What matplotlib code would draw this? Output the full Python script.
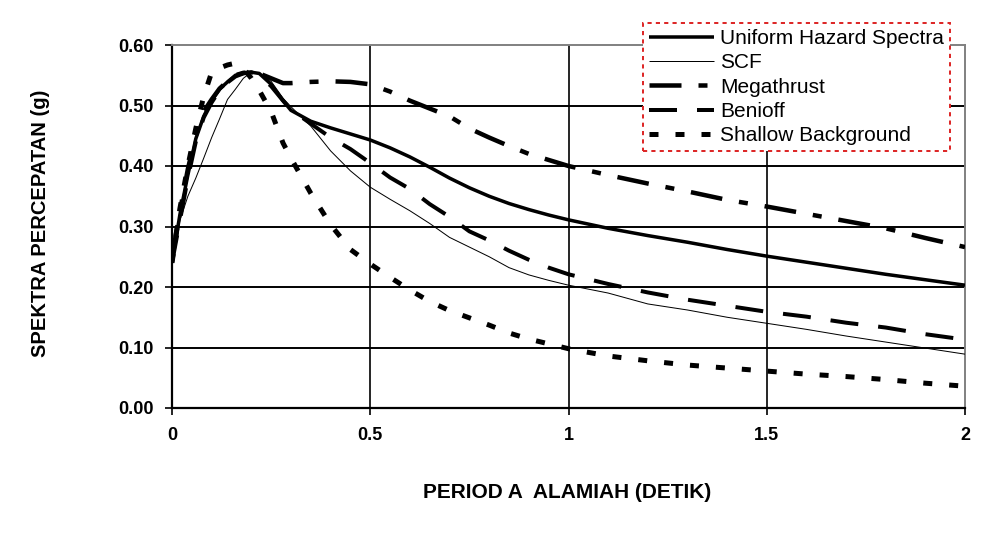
import numpy as np
import matplotlib
matplotlib.use("Agg")
import matplotlib.pyplot as plt

# Periode (detik) and spectral acceleration (g)
period = [0.00, 0.02, 0.04, 0.06, 0.08, 0.10, 0.12, 0.14, 0.16, 0.18,
          0.20, 0.22, 0.25, 0.28, 0.30, 0.35, 0.40, 0.45, 0.50, 0.55,
          0.60, 0.65, 0.70, 0.75, 0.80, 0.85, 0.90, 0.95, 1.00, 1.10,
          1.20, 1.30, 1.40, 1.50, 1.60, 1.70, 1.80, 1.90, 2.00]

uhs = [0.240, 0.320, 0.385, 0.445, 0.482, 0.508, 0.527, 0.539, 0.550, 0.554,
       0.555, 0.553, 0.535, 0.508, 0.492, 0.474, 0.463, 0.453, 0.443, 0.430,
       0.415, 0.398, 0.380, 0.364, 0.350, 0.338, 0.328, 0.319, 0.311, 0.297,
       0.285, 0.274, 0.262, 0.251, 0.241, 0.231, 0.221, 0.212, 0.203]

scf = [0.240, 0.310, 0.350, 0.380, 0.413, 0.447, 0.478, 0.510, 0.527, 0.545,
       0.555, 0.554, 0.540, 0.512, 0.498, 0.466, 0.425, 0.392, 0.365, 0.345,
       0.326, 0.305, 0.282, 0.266, 0.250, 0.232, 0.220, 0.211, 0.203, 0.190,
       0.172, 0.162, 0.150, 0.140, 0.130, 0.119, 0.109, 0.099, 0.089]

megathrust = [0.250, 0.325, 0.395, 0.450, 0.490, 0.510, 0.528, 0.540, 0.550, 0.554,
              0.555, 0.553, 0.545, 0.537, 0.537, 0.539, 0.540, 0.539, 0.535, 0.523,
              0.508, 0.495, 0.482, 0.462, 0.447, 0.433, 0.420, 0.410, 0.400, 0.385,
              0.371, 0.358, 0.344, 0.333, 0.321, 0.309, 0.297, 0.281, 0.266]

benioff = [0.240, 0.310, 0.380, 0.440, 0.480, 0.505, 0.525, 0.538, 0.548, 0.553,
           0.555, 0.550, 0.532, 0.508, 0.493, 0.470, 0.447, 0.428, 0.405, 0.381,
           0.362, 0.337, 0.316, 0.292, 0.277, 0.260, 0.245, 0.232, 0.221, 0.205,
           0.191, 0.179, 0.169, 0.159, 0.151, 0.141, 0.133, 0.122, 0.113]

shallow = [0.240, 0.330, 0.400, 0.462, 0.515, 0.555, 0.562, 0.567, 0.570, 0.562,
           0.545, 0.525, 0.490, 0.438, 0.413, 0.355, 0.303, 0.262, 0.238, 0.216,
           0.195, 0.176, 0.161, 0.149, 0.137, 0.124, 0.114, 0.106, 0.098, 0.086,
           0.078, 0.071, 0.066, 0.061, 0.056, 0.052, 0.047, 0.041, 0.036]

labels = ["Uniform Hazard Spectra", "SCF", "Megathrust", "Benioff", "Shallow Background"]
x_ticks = [0, 0.5, 1, 1.5, 2]
x_tick_labels = ["0", "0.5", "1", "1.5", "2"]
y_ticks = [0.0, 0.1, 0.2, 0.3, 0.4, 0.5, 0.6]

plt.rcParams["font.family"] = ["Liberation Sans", "DejaVu Sans"]
plt.rcParams["lines.scale_dashes"] = False

fig = plt.figure(figsize=(10.01, 5.37), dpi=100)
ax = fig.add_axes([172 / 1001, 1 - 408 / 537, (965 - 172) / 1001, (408 - 45) / 537])

# px -> pt at 100 dpi
pt = 0.72
styles = [
    dict(color="black", lw=3.5 * pt, linestyle="-"),
    dict(color="black", lw=1.0 * pt, linestyle="-"),
    dict(color="black", lw=4.5 * pt, linestyle=(0, (32 * pt, 17 * pt, 9 * pt, 17 * pt))),
    dict(color="black", lw=4.0 * pt, linestyle=(0, (28 * pt, 20 * pt))),
    dict(color="black", lw=5.0 * pt, linestyle=(0, (9 * pt, 17 * pt))),
]
series = [uhs, scf, megathrust, benioff, shallow]

handles = []
for vals, st, lab in zip(series, styles, labels):
    (h,) = ax.plot(period, vals, label=lab, solid_capstyle="butt",
                   dash_capstyle="butt", zorder=3, **st)
    handles.append(h)

ax.set_xlim(0, 2)
ax.set_ylim(0, 0.6)
ax.set_xticks(x_ticks)
ax.set_xticklabels(x_tick_labels)
ax.set_yticks(y_ticks)
ax.set_yticklabels([f"{v:.2f}" for v in y_ticks])

for lab in ax.get_xticklabels() + ax.get_yticklabels():
    lab.set_fontweight("bold")
    lab.set_fontsize(13)

ax.tick_params(axis="x", direction="out", length=5, width=1.2, pad=9)
ax.tick_params(axis="y", direction="out", length=5, width=1.2, pad=8)

# grid: horizontal at every 0.1, vertical at 0.5 / 1 / 1.5
for y in y_ticks[1:-1]:
    ax.axhline(y, color="black", lw=1.4, zorder=1)
for x in x_ticks[1:-1]:
    ax.axvline(x, color="black", lw=1.2, zorder=1)

ax.spines["left"].set_linewidth(1.6)
ax.spines["bottom"].set_linewidth(1.6)
ax.spines["top"].set_color("#808080")
ax.spines["right"].set_color("#808080")
ax.spines["top"].set_linewidth(1.4)
ax.spines["right"].set_linewidth(1.4)

fig.text(41 / 1001, 1 - 223 / 537, "SPEKTRA PERCEPATAN (g)", rotation=90,
         ha="center", va="center", fontsize=14.5, fontweight="bold")
fig.text(567 / 1001, 1 - 493 / 537, "PERIOD A  ALAMIAH (DETIK)",
         ha="center", va="center", fontsize=15, fontweight="bold")

leg = ax.legend(handles=handles, loc="upper left",
                bbox_to_anchor=(643 / 1001, 1 - 23 / 537),
                bbox_transform=fig.transFigure, borderaxespad=0,
                fontsize=15, handlelength=3.1, handletextpad=0.3,
                labelspacing=0.25, borderpad=0.3, fancybox=False,
                framealpha=1, facecolor="white")
frame = leg.get_frame()
frame.set_edgecolor("#dd2222")
frame.set_linestyle((0, (3, 3)))
frame.set_linewidth(1.4)
leg.set_zorder(5)

fig.savefig("out.png", dpi=100)
